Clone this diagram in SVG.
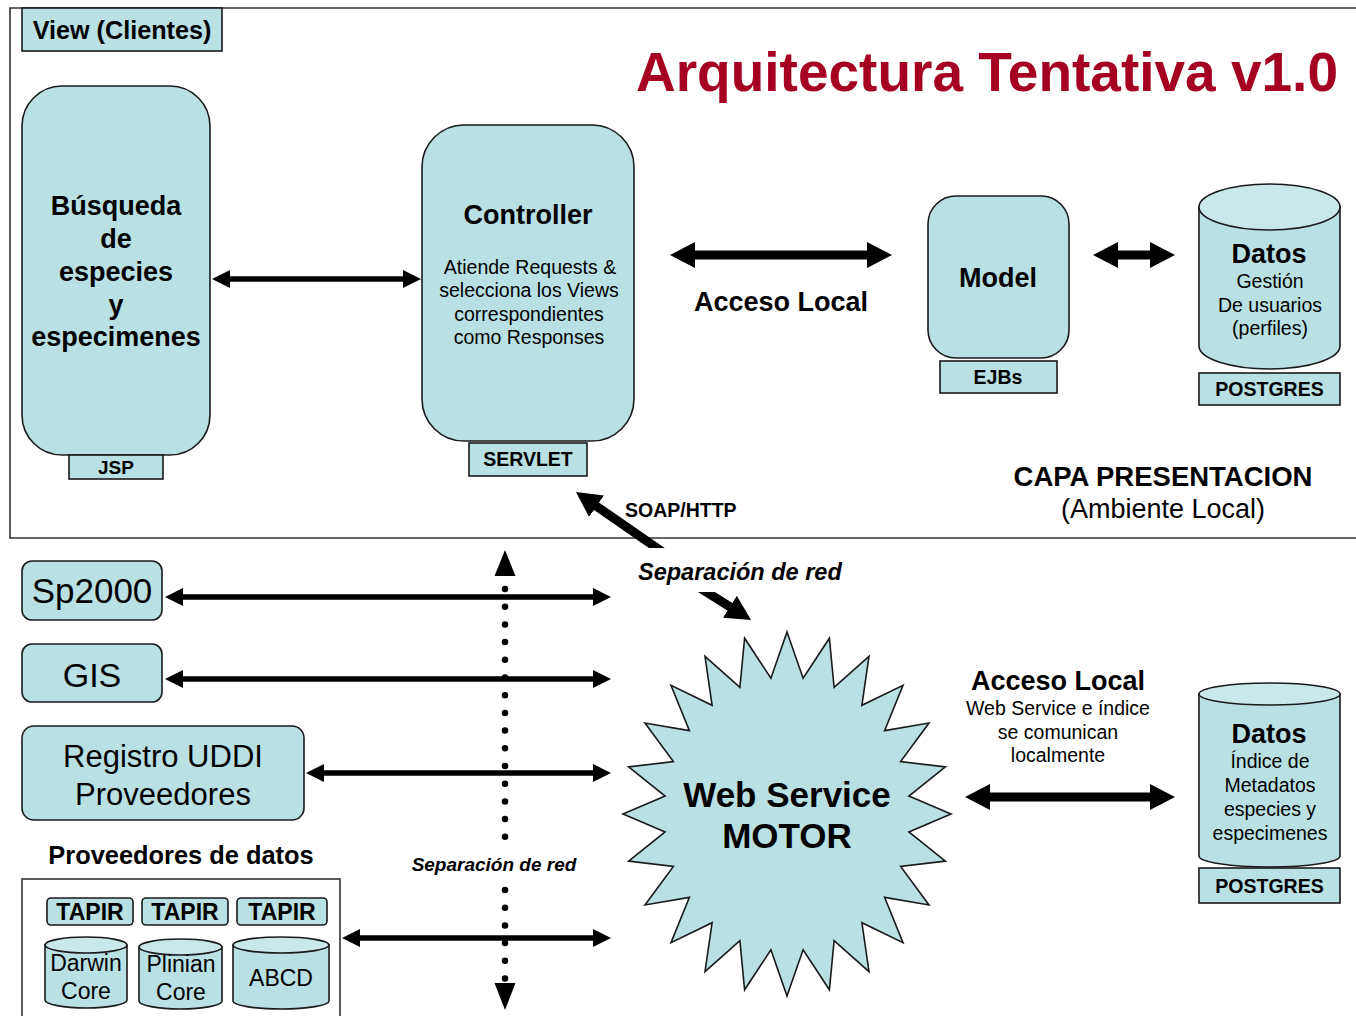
<svg xmlns="http://www.w3.org/2000/svg" width="1356" height="1016" viewBox="0 0 1356 1016">
<style>
text{font-family:"Liberation Sans",Arial,Helvetica,sans-serif;fill:#000}
.b{font-weight:bold}
.c{text-anchor:middle}
.box{fill:#b9e0e3;stroke:#1a1a1a;stroke-width:1.6}
.top{fill:#c9e8ea;stroke:#1a1a1a;stroke-width:1.6}
.frame{fill:none;stroke:#333;stroke-width:1.6}
.a1{stroke:#000;stroke-width:5.5;fill:none;marker-start:url(#h1);marker-end:url(#h1)}
.a2{stroke:#000;stroke-width:9;fill:none;marker-start:url(#h2);marker-end:url(#h2)}
.a3{stroke:#000;stroke-width:9;fill:none;marker-end:url(#h2)}
.dots{stroke:#000;stroke-width:6.5;stroke-linecap:round;stroke-dasharray:0 17.7;fill:none}
.t18{font-size:19.5px}
.t27{font-size:27px}
</style>
<defs>
<marker id="h1" viewBox="0 0 18 18" markerWidth="18" markerHeight="18" refX="4" refY="9" orient="auto-start-reverse" markerUnits="userSpaceOnUse">
<path d="M0,0 L18,9 L0,18 Z" fill="#000"/>
</marker>
<marker id="h2" viewBox="0 0 25 26" markerWidth="25" markerHeight="26" refX="5" refY="13" orient="auto-start-reverse" markerUnits="userSpaceOnUse">
<path d="M0,0 L25,13 L0,26 Z" fill="#000"/>
</marker>
<clipPath id="clipSoap"><rect x="0" y="0" width="1356" height="548"/></clipPath>
<clipPath id="clipSep"><rect x="0" y="592" width="1356" height="424"/></clipPath>
</defs>

<rect width="1356" height="1016" fill="#fff"/>

<g id="frame">
<path class="frame" d="M1356,8 L10,8 L10,538 L1356,538"/>
</g>

<g id="title">
<text x="636" y="91" class="b" style="font-size:55px;fill:#a50021">Arquitectura Tentativa v1.0</text>
</g>

<g id="view-clientes">
<rect class="box" x="22" y="8" width="200" height="43"/>
<text x="122" y="39" class="b c" style="font-size:25.2px">View (Clientes)</text>
</g>

<g id="busqueda">
<rect class="box" x="22" y="86" width="188" height="369" rx="40"/>
<text class="b c t27" x="116"><tspan x="116" y="215">Búsqueda</tspan><tspan x="116" y="248">de</tspan><tspan x="116" y="281">especies</tspan><tspan x="116" y="314">y</tspan><tspan x="116" y="346">especimenes</tspan></text>
</g>
<g id="jsp">
<rect class="box" x="69" y="455" width="94" height="24"/>
<text x="116" y="474" class="b c" style="font-size:19px">JSP</text>
</g>

<g id="controller">
<rect class="box" x="422" y="125" width="212" height="316" rx="42"/>
<text x="528" y="224" class="b c t27">Controller</text>
<text class="c t18"><tspan x="530" y="274">Atiende Requests &amp;</tspan><tspan x="529" y="297">selecciona los Views</tspan><tspan x="529" y="321">correspondientes</tspan><tspan x="529" y="344">como Responses</tspan></text>
</g>
<g id="servlet">
<rect class="box" x="469" y="443" width="118" height="33"/>
<text x="528" y="466" class="b c t18">SERVLET</text>
</g>

<g id="model">
<rect class="box" x="928" y="196" width="141" height="162" rx="28"/>
<text x="998" y="287" class="b c t27">Model</text>
</g>
<g id="ejbs">
<rect class="box" x="940" y="361" width="117" height="32"/>
<text x="998" y="384" class="b c t18">EJBs</text>
</g>

<g id="datos-usuarios">
<path class="box" d="M1199,207 L1199,346 A70.5,23 0 0 0 1340,346 L1340,207 Z"/>
<ellipse class="top" cx="1269.5" cy="207" rx="70.5" ry="23"/>
<text x="1269" y="263" class="b c t27">Datos</text>
<text class="c t18"><tspan x="1270" y="288">Gestión</tspan><tspan x="1270" y="312">De usuarios</tspan><tspan x="1270" y="335">(perfiles)</tspan></text>
</g>
<g id="postgres-1">
<rect class="box" x="1199" y="373" width="141" height="32"/>
<text x="1269.5" y="396" class="b c t18">POSTGRES</text>
</g>

<g id="capa-presentacion">
<text x="1163" y="486" class="b c" style="font-size:27.5px">CAPA PRESENTACION</text>
<text x="1163" y="518" class="c t27">(Ambiente Local)</text>
</g>

<g id="sp2000">
<rect class="box" x="22" y="561" width="140" height="59" rx="10"/>
<text x="92" y="603" class="c" style="font-size:35px">Sp2000</text>
</g>
<g id="gis">
<rect class="box" x="22" y="644" width="140" height="58" rx="10"/>
<text x="92" y="687" class="c" style="font-size:34px">GIS</text>
</g>
<g id="registro-uddi">
<rect class="box" x="22" y="726" width="282" height="94" rx="12"/>
<text class="c" style="font-size:31px"><tspan x="163" y="767">Registro UDDI</tspan><tspan x="163" y="805">Proveedores</tspan></text>
</g>

<g id="proveedores-datos">
<text x="181" y="864" class="b c" style="font-size:25.4px">Proveedores de datos</text>
<rect x="22" y="879" width="318" height="145" fill="#fff" stroke="#333" stroke-width="1.6"/>
<g id="tapir-1">
<rect class="box" x="47" y="898" width="86" height="27" rx="4"/>
<text x="90" y="920" class="b c" style="font-size:23px">TAPIR</text>
</g>
<g id="tapir-2">
<rect class="box" x="142" y="898" width="86" height="27" rx="4"/>
<text x="185" y="920" class="b c" style="font-size:23px">TAPIR</text>
</g>
<g id="tapir-3">
<rect class="box" x="237" y="898" width="90" height="27" rx="4"/>
<text x="282" y="920" class="b c" style="font-size:23px">TAPIR</text>
</g>
<g id="darwin-core">
<path class="box" d="M45,945 L45,1000 A41,8 0 0 0 127,1000 L127,945 Z"/>
<ellipse class="top" cx="86" cy="945" rx="41" ry="8"/>
<text class="c" style="font-size:23px"><tspan x="86" y="971">Darwin</tspan><tspan x="86" y="999">Core</tspan></text>
</g>
<g id="plinian-core">
<path class="box" d="M139,947 L139,1001 A41.5,8 0 0 0 222,1001 L222,947 Z"/>
<ellipse class="top" cx="180.5" cy="947" rx="41.5" ry="8"/>
<text class="c" style="font-size:23px"><tspan x="181" y="972">Plinian</tspan><tspan x="181" y="1000">Core</tspan></text>
</g>
<g id="abcd">
<path class="box" d="M233,945 L233,1001 A48,8 0 0 0 329,1001 L329,945 Z"/>
<ellipse class="top" cx="281" cy="945" rx="48" ry="8"/>
<text x="281" y="986" class="c" style="font-size:23px">ABCD</text>
</g>
</g>

<g id="web-service-motor">
<polygon class="box" points="787,632 803.1,678.2 829.4,638.2 834.1,687.4 869,656.4 861.9,705.3 903,685.3 884.6,730.6 929,723 900.6,761.6 945.4,766.9 908.9,796.1 951,814 908.9,831.9 945.4,861.1 900.6,866.4 929,905 884.6,897.4 903,942.7 861.9,922.7 869,971.6 834.1,940.6 829.4,989.8 803.1,949.8 787,996 770.9,949.8 744.6,989.8 739.9,940.6 705,971.6 712.1,922.7 671,942.7 689.4,897.4 645,905 673.4,866.4 628.6,861.1 665.1,831.9 623,814 665.1,796.1 628.6,766.9 673.4,761.6 645,723 689.4,730.6 671,685.3 712.1,705.3 705,656.4 739.9,687.4 744.6,638.2 770.9,678.2"/>
<text class="b c" style="font-size:35px"><tspan x="787" y="807">Web Service</tspan><tspan x="787" y="848">MOTOR</tspan></text>
</g>

<g id="acceso-local-ws">
<text x="1058" y="690" class="b c t27">Acceso Local</text>
<text class="c t18"><tspan x="1058" y="715">Web Service e índice</tspan><tspan x="1058" y="739">se comunican</tspan><tspan x="1058" y="762">localmente</tspan></text>
</g>

<g id="datos-indice">
<path class="box" d="M1199,694 L1199,856 A70.5,11 0 0 0 1340,856 L1340,694 Z"/>
<ellipse class="top" cx="1269.5" cy="694" rx="70.5" ry="11"/>
<text x="1269" y="743" class="b c t27">Datos</text>
<text class="c t18"><tspan x="1270" y="768">Índice de</tspan><tspan x="1270" y="792">Metadatos</tspan><tspan x="1270" y="816">especies y</tspan><tspan x="1270" y="840">especimenes</tspan></text>
</g>
<g id="postgres-2">
<rect class="box" x="1199" y="868" width="141" height="35"/>
<text x="1269.5" y="893" class="b c t18">POSTGRES</text>
</g>

<g id="connectors">
<line class="a1" x1="226" y1="279" x2="407" y2="279"/>
<line class="a2" x1="690" y1="255" x2="872" y2="255"/>
<text x="781" y="311" class="b c t27">Acceso Local</text>
<line class="a2" x1="1113" y1="255" x2="1155" y2="255"/>
<line class="a3" x1="671.3" y1="558" x2="592.4" y2="503.4" clip-path="url(#clipSoap)"/>
<text x="625" y="517" class="b t18">SOAP/HTTP</text>
<text x="638" y="580" class="b" style="font-size:23.5px;font-style:italic">Separación de red</text>
<line class="a3" x1="695.2" y1="585" x2="734.1" y2="609.4" clip-path="url(#clipSep)"/>
<line class="a1" x1="179" y1="597" x2="597" y2="597"/>
<line class="a1" x1="179" y1="679" x2="597" y2="679"/>
<line class="a1" x1="320" y1="773" x2="597" y2="773"/>
<line class="a1" x1="356" y1="938" x2="597" y2="938"/>
<line class="a2" x1="985" y1="797" x2="1155" y2="797"/>
<g id="separacion-red">
<polygon points="505,550 494.5,576 515.5,576" fill="#000"/>
<line class="dots" x1="505" y1="589" x2="505" y2="840"/>
<text x="494" y="871" class="b c" style="font-size:19px;font-style:italic">Separación de red</text>
<line class="dots" x1="505" y1="890" x2="505" y2="980"/>
<polygon points="505,1010 494.5,983 515.5,983" fill="#000"/>
</g>
</g>
</svg>
